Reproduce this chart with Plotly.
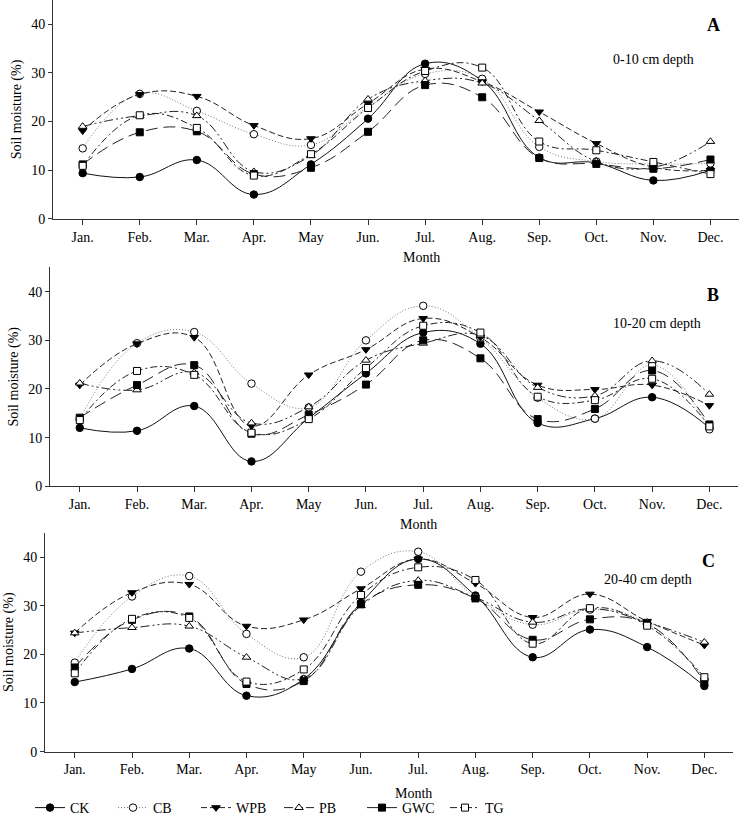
import plotly.graph_objects as go

months = ["Jan.", "Feb.", "Mar.", "Apr.", "May", "Jun.", "Jul.", "Aug.", "Sep.", "Oct.", "Nov.", "Dec."]
series_names = ["CK", "CB", "WPB", "PB", "GWC", "TG"]

# Panel A: 0-10 cm depth
a_CK = [9.4, 8.6, 12.1, 5.0, 11.2, 20.6, 31.9, 28.4, 12.6, 11.5, 7.9, 10.0]
a_CB = [14.5, 25.7, 22.2, 17.4, 15.2, 23.0, 29.8, 28.8, 14.8, 11.8, 11.3, 11.4]
a_WPB = [18.1, 25.6, 25.2, 19.2, 16.5, 23.7, 30.8, 28.2, 22.0, 15.5, 10.6, 10.0]
a_PB = [19.0, 21.2, 21.2, 9.7, 13.0, 24.6, 28.4, 27.9, 20.2, 11.8, 10.6, 15.9]
a_GWC = [11.2, 17.8, 18.0, 9.2, 10.5, 17.9, 27.5, 25.0, 12.5, 11.3, 10.3, 12.2]
a_TG = [10.9, 21.3, 18.7, 8.9, 13.3, 22.8, 30.4, 31.1, 15.9, 14.1, 11.7, 9.2]

# Panel B: 10-20 cm depth
b_CK = [12.0, 11.4, 16.5, 5.1, 14.0, 23.2, 31.6, 29.3, 13.0, 13.9, 18.3, 12.0]
b_CB = [13.8, 29.4, 31.7, 21.1, 16.2, 30.0, 37.1, 30.5, 18.2, 13.9, 24.9, 11.7]
b_WPB = [20.8, 29.3, 30.6, 12.4, 22.9, 28.1, 34.5, 30.6, 20.8, 19.9, 20.8, 16.6]
b_PB = [21.2, 19.8, 23.4, 13.0, 16.3, 25.9, 29.4, 31.0, 20.3, 18.6, 25.8, 18.9]
b_GWC = [14.1, 20.8, 24.9, 10.8, 14.7, 20.9, 30.0, 26.3, 13.8, 15.9, 23.8, 12.7]
b_TG = [13.6, 23.7, 22.9, 11.0, 13.8, 24.3, 33.0, 31.6, 18.4, 17.7, 22.1, 12.3]

# Panel C: 20-40 cm depth
c_CK = [14.3, 17.0, 21.2, 11.5, 14.9, 30.6, 39.6, 32.1, 19.4, 25.1, 21.5, 13.5]
c_CB = [18.3, 31.9, 36.1, 24.2, 19.4, 37.0, 41.1, 31.8, 26.1, 29.2, 26.3, 14.8]
c_WPB = [24.4, 32.7, 34.4, 25.8, 27.1, 33.5, 39.6, 34.6, 27.6, 32.4, 26.8, 21.9]
c_PB = [24.4, 25.5, 25.8, 19.4, 15.0, 30.0, 35.2, 31.7, 26.6, 29.4, 26.6, 22.5]
c_GWC = [17.3, 27.1, 27.8, 13.9, 14.5, 30.3, 34.3, 31.5, 23.0, 27.2, 26.3, 14.4]
c_TG = [16.1, 27.3, 27.5, 14.4, 16.9, 32.2, 37.9, 35.3, 22.2, 29.5, 25.9, 15.3]

panels = [
    ("A", "0-10 cm depth", [a_CK, a_CB, a_WPB, a_PB, a_GWC, a_TG]),
    ("B", "10-20 cm depth", [b_CK, b_CB, b_WPB, b_PB, b_GWC, b_TG]),
    ("C", "20-40 cm depth", [c_CK, c_CB, c_WPB, c_PB, c_GWC, c_TG]),
]

W, H = 740, 824
FONT = "Liberation Serif, Times New Roman, serif"

styles = {
    "CK": dict(symbol="circle", fill="black", dash="solid", lc="#111111", size=7.5),
    "CB": dict(symbol="circle", fill="white", dash="1px,2px", lc="#777777", size=7.5),
    "WPB": dict(symbol="triangle-down", fill="black", dash="6px,3px", lc="#222222", size=7.5),
    "PB": dict(symbol="triangle-up", fill="white", dash="9px,3px,2px,3px,2px,3px", lc="#222222", size=7.5),
    "GWC": dict(symbol="square", fill="black", dash="12px,6px", lc="#222222", size=7),
    "TG": dict(symbol="square", fill="white", dash="7px,3px,2px,3px", lc="#222222", size=7),
}

# pixel layout for each panel: (x_left, x_right, y_top, y_bottom)
px_layout = [
    (53, 739, 0, 221),
    (50, 738, 270, 491),
    (45, 733, 538, 759),
]
letter_pos = [(713, 25), (713, 298), (708, 566)]
depth_pos = [(653, 60), (657, 327), (648, 585)]
month_pos = [(422, 260), (418, 530), (413, 801)]

fig = go.Figure()
layout = dict(
    width=W, height=H,
    margin=dict(l=0, r=0, t=0, b=0),
    paper_bgcolor="white", plot_bgcolor="white",
    font=dict(family=FONT, size=14, color="black"),
    showlegend=True,
    legend=dict(orientation="h", x=30 / W, y=1 - 816 / H, xanchor="left", yanchor="middle",
                font=dict(family=FONT, size=14, color="black"),
                itemwidth=30, entrywidth=38, entrywidthmode="pixels",
                bgcolor="rgba(0,0,0,0)", tracegroupgap=0),
)
annotations = []

for i, (letter, depth, data) in enumerate(panels):
    sfx = "" if i == 0 else str(i + 1)
    xl, xr, yt, yb = px_layout[i]
    for name, vals in zip(series_names, data):
        st = styles[name]
        fig.add_trace(go.Scatter(
            x=months, y=vals, name=name, mode="lines+markers",
            xaxis="x" + sfx, yaxis="y" + sfx,
            line=dict(shape="spline", smoothing=1.2, color=st["lc"], width=1, dash=st["dash"]),
            marker=dict(symbol=st["symbol"], size=st["size"],
                        color=st["fill"], line=dict(color="black", width=1)),
            showlegend=(i == 0),
        ))
    layout["xaxis" + sfx] = dict(
        domain=[xl / W, xr / W], anchor="y" + sfx,
        type="category", categoryorder="array", categoryarray=months,
        range=[-0.52, 11.5], showline=True, linecolor="#333333", linewidth=1,
        ticks="outside", ticklen=5, tickcolor="#333333", showgrid=False, zeroline=False,
        tickfont=dict(family=FONT, size=14, color="black"), automargin=False,
    )
    layout["yaxis" + sfx] = dict(
        domain=[1 - yb / H, 1 - yt / H], anchor="x" + sfx,
        range=[0, 45], tickvals=[0, 10, 20, 30, 40], showline=True, linecolor="#333333",
        linewidth=1, ticks="outside", ticklen=4, tickcolor="#333333", showgrid=False,
        zeroline=False, tickfont=dict(family=FONT, size=14, color="black"), automargin=False,
        title=dict(text="Soil moisture (%)", font=dict(family=FONT, size=14, color="black"), standoff=6),
    )
    lx, ly = letter_pos[i]
    annotations.append(dict(text="<b>%s</b>" % letter, x=lx / W, y=1 - ly / H, xref="paper", yref="paper",
                            showarrow=False, font=dict(family=FONT, size=18, color="black"),
                            xanchor="center", yanchor="middle"))
    dx, dy = depth_pos[i]
    annotations.append(dict(text=depth, x=dx / W, y=1 - dy / H, xref="paper", yref="paper",
                            showarrow=False, font=dict(family=FONT, size=14, color="black"),
                            xanchor="center", yanchor="middle"))
    mx, my = month_pos[i]
    annotations.append(dict(text="Month", x=mx / W, y=1 - my / H, xref="paper", yref="paper",
                            showarrow=False, font=dict(family=FONT, size=14, color="black"),
                            xanchor="center", yanchor="middle"))

layout["annotations"] = annotations
fig.update_layout(**layout)
fig.write_html("out.html", config={"displayModeBar": False},
               post_script="document.body.style.margin='0px';")
